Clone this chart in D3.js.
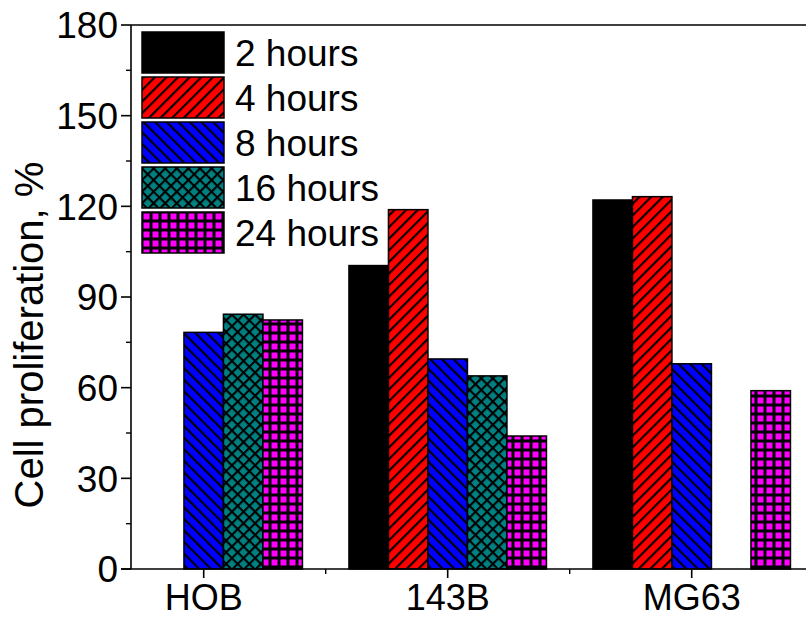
<!DOCTYPE html>
<html>
<head>
<meta charset="utf-8">
<script src="https://cdn.jsdelivr.net/npm/d3@7"></script>
<style>
  html, body { margin: 0; padding: 0; background: #fff; }
  svg { display: block; font-family: "Liberation Sans", Arial, sans-serif; }
</style>
</head>
<body>
<svg id="chart" width="806" height="619"></svg>
<script>
// Cell lines on the x axis
const categories = ["HOB", "143B", "MG63"];
// Incubation times (legend entries)
const seriesNames = ["2 hours", "4 hours", "8 hours", "16 hours", "24 hours"];
// Cell proliferation (%) per cell line, one array per incubation time
const values2h  = [null, 100.4, 122.1];
const values4h  = [null, 118.9, 123.2];
const values8h  = [78.3, 69.5, 67.9];
const values16h = [84.3, 63.9, null];
const values24h = [82.4, 44.0, 59.0];
// Y axis ticks
const yTicks = [0, 30, 60, 90, 120, 150, 180];
const yMinorTicks = [15, 45, 75, 105, 135, 165];

const seriesValues = [values2h, values4h, values8h, values16h, values24h];

const svg = d3.select("#chart");
const plot = { left: 131, right: 830, top: 25, bottom: 569 };

const y = d3.scaleLinear().domain([0, 180]).range([plot.bottom, plot.top]);
const x = d3.scaleBand().domain(categories).range([81.7, 813.7]).paddingInner(0).paddingOuter(0);
const groupWidth = 197.5;
const xs = d3.scaleBand().domain(seriesNames).range([-groupWidth / 2, groupWidth / 2]).padding(0);

// Fill patterns
const defs = svg.append("defs");
function hatch(id, bg, angle, size, cross) {
  const p = defs.append("pattern")
    .attr("id", id).attr("patternUnits", "userSpaceOnUse")
    .attr("width", size).attr("height", size)
    .attr("patternTransform", `rotate(${angle})`);
  p.append("rect").attr("width", size).attr("height", size).attr("fill", bg);
  p.append("line").attr("x1", 0).attr("y1", 0).attr("x2", 0).attr("y2", size)
    .attr("stroke", "#000").attr("stroke-width", 4.2);
  if (cross) {
    p.append("line").attr("x1", 0).attr("y1", 0).attr("x2", size).attr("y2", 0)
      .attr("stroke", "#000").attr("stroke-width", 4.2);
  }
}
hatch("pat4", "#ff0000", 45, 8.2, false);
hatch("pat8", "#0000ff", -45, 8.2, false);
hatch("pat16", "#008080", 45, 8.2, true);
(function grid() {
  const s = 9;
  const p = defs.append("pattern")
    .attr("id", "pat24").attr("patternUnits", "userSpaceOnUse")
    .attr("width", s).attr("height", s);
  p.append("rect").attr("width", s).attr("height", s).attr("fill", "#000");
  p.append("rect").attr("x", 1.5).attr("y", 1.5).attr("width", s - 3).attr("height", s - 3).attr("fill", "#ff00ff");
})();
const fills = ["#000000", "url(#pat4)", "url(#pat8)", "url(#pat16)", "url(#pat24)"];

// Bars
const barData = [];
seriesValues.forEach((vals, si) => {
  vals.forEach((v, ci) => {
    if (v != null) barData.push({ series: seriesNames[si], si, cat: categories[ci], value: v });
  });
});
svg.append("g").selectAll("rect").data(barData).join("rect")
  .attr("x", d => x(d.cat) + x.bandwidth() / 2 + xs(d.series))
  .attr("width", xs.bandwidth())
  .attr("y", d => y(d.value))
  .attr("height", d => y(0) - y(d.value))
  .attr("fill", d => fills[d.si])
  .attr("stroke", "#000").attr("stroke-width", 1.5);

// Frame (top and left edges visible; right edge falls outside)
const axisColor = "#000";
svg.append("line").attr("x1", plot.left).attr("x2", plot.right)
  .attr("y1", plot.top).attr("y2", plot.top).attr("stroke", axisColor).attr("stroke-width", 1.6);

// Y axis
const yAxis = svg.append("g");
yAxis.append("line").attr("x1", plot.left).attr("x2", plot.left)
  .attr("y1", plot.top).attr("y2", plot.bottom).attr("stroke", axisColor).attr("stroke-width", 1.6);
yAxis.selectAll(".major").data(yTicks).join("line")
  .attr("x1", plot.left - 10).attr("x2", plot.left)
  .attr("y1", d => y(d)).attr("y2", d => y(d)).attr("stroke", axisColor).attr("stroke-width", 1.6);
yAxis.selectAll(".minor").data(yMinorTicks).join("line")
  .attr("x1", plot.left - 5).attr("x2", plot.left)
  .attr("y1", d => y(d)).attr("y2", d => y(d)).attr("stroke", axisColor).attr("stroke-width", 1.4);
yAxis.selectAll("text").data(yTicks).join("text")
  .attr("x", plot.left - 13).attr("y", d => y(d))
  .attr("dy", "0.36em").attr("text-anchor", "end")
  .attr("font-size", 37).attr("fill", "#000")
  .text(d => d);

// X axis
const xAxis = svg.append("g");
xAxis.append("line").attr("x1", plot.left - 10).attr("x2", plot.right)
  .attr("y1", plot.bottom).attr("y2", plot.bottom).attr("stroke", axisColor).attr("stroke-width", 1.6);
xAxis.selectAll(".major").data(categories).join("line")
  .attr("x1", d => x(d) + x.bandwidth() / 2).attr("x2", d => x(d) + x.bandwidth() / 2)
  .attr("y1", plot.bottom).attr("y2", plot.bottom + 9).attr("stroke", axisColor).attr("stroke-width", 1.6);
xAxis.selectAll(".minor").data(categories.slice(1)).join("line")
  .attr("x1", d => x(d)).attr("x2", d => x(d))
  .attr("y1", plot.bottom).attr("y2", plot.bottom + 5).attr("stroke", axisColor).attr("stroke-width", 1.4);
xAxis.selectAll("text").data(categories).join("text")
  .attr("x", d => x(d) + x.bandwidth() / 2).attr("y", 610)
  .attr("text-anchor", "middle").attr("font-size", 36).attr("fill", "#000")
  .text(d => d);

// Y axis title
svg.append("text")
  .attr("transform", `translate(43, 335) rotate(-90)`)
  .attr("text-anchor", "middle").attr("font-size", 40).attr("fill", "#000")
  .text("Cell proliferation, %");

// Legend
const legend = svg.append("g").attr("transform", "translate(142, 32)");
const rowH = 45;
const items = legend.selectAll("g").data(seriesNames).join("g")
  .attr("transform", (d, i) => `translate(0, ${i * rowH})`);
items.append("rect").attr("width", 82).attr("height", 41)
  .attr("fill", (d, i) => fills[i]).attr("stroke", "#000").attr("stroke-width", 1.5);
items.append("text").attr("x", 93).attr("y", 20.5).attr("dy", "0.36em")
  .attr("font-size", 37).attr("fill", "#000").text(d => d);
</script>
</body>
</html>
